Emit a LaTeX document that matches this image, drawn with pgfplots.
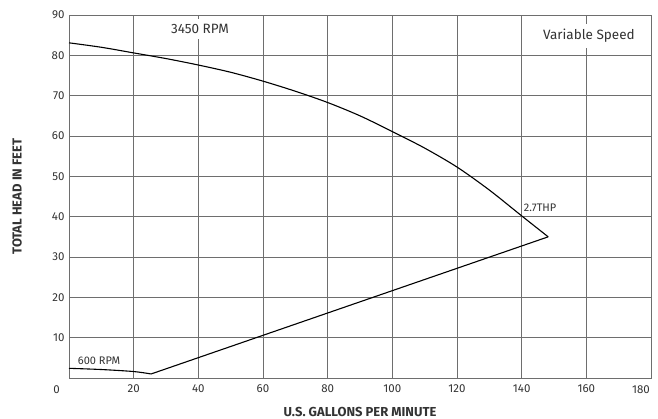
\documentclass[border=0pt]{standalone}
\usepackage{pgfplots}
\pgfplotsset{compat=1.18}
\usepackage{fontspec}
\setmainfont{Fira Sans}
\definecolor{gridc}{HTML}{6E6E6E}
\definecolor{tickc}{HTML}{333333}
\begin{document}
\begin{tikzpicture}
\useasboundingbox (-69pt,-41pt) rectangle (589pt,378pt);
\begin{axis}[
  at={(0pt,0pt)}, anchor=south west,
  scale only axis,
  width=582pt, height=363pt,
  xmin=0, xmax=180, ymin=0, ymax=90,
  xtick={20,40,...,180},
  xticklabels={20,40,60,80,100,120,140,160,},
  ytick={10,20,...,90},
  major tick length=0pt,
  grid=major,
  major grid style={gridc, line width=0.9pt},
  axis line style={gridc, line width=0.9pt},
  /pgf/number format/assume math mode=true,
  tick label style={font=\fontsize{11.5}{13}\selectfont, text=tickc},
  xticklabel style={yshift=-3pt},
  yticklabel style={xshift=-1pt},
  xlabel={\textbf{U.S. GALLONS PER MINUTE}},
  ylabel={\textbf{TOTAL HEAD IN FEET}},
  label style={font=\fontsize{13}{15}\selectfont, text=tickc},
  xlabel style={yshift=-8pt},
  ylabel style={yshift=23pt},
  clip=false,
]
\addplot[black, line width=1.1pt, smooth, tension=0.5] coordinates {
 (0,83.1) (10,82.0) (20,80.6) (30,79.2) (40,77.6) (50,75.8) (60,73.6)
 (70,71.1) (80,68.3) (90,65.0) (100,61.1) (110,57.0) (120,52.3)
 (130,46.6) (140,40.2) (148.2,35.0)
};
\addplot[black, line width=1.1pt] coordinates {
 (148.2,35.0) (25.4,1.0)
};
\addplot[black, line width=1.1pt, smooth] coordinates {
 (0,2.4) (10,2.1) (20,1.6) (25.4,1.0)
};
\node[fill=white, inner xsep=4pt, inner ysep=5pt, font=\fontsize{13.5}{15}\selectfont, text=tickc] at (axis cs:40.5,86.5) {3450 RPM};
\node[fill=white, inner xsep=4pt, inner ysep=5pt, font=\fontsize{13.5}{15}\selectfont, text=tickc] at (axis cs:160.8,84.8) {Variable Speed};
\node[font=\fontsize{11}{13}\selectfont, text=tickc] at (axis cs:9.3,4.2) {600 RPM};
\node[anchor=west, inner sep=0pt, font=\fontsize{11}{13}\selectfont, text=tickc] at (axis cs:140.6,42.2) {2.7THP};
\node[anchor=east, font=\fontsize{11.5}{13}\selectfont, text=tickc, inner sep=0pt] at (axis cs:0,0) [xshift=-9pt, yshift=-12pt] {0};
\node[anchor=east, font=\fontsize{11.5}{13}\selectfont, text=tickc, inner sep=0pt] at (axis cs:180,0) [xshift=-1pt, yshift=-12pt] {180};
\end{axis}
\end{tikzpicture}
\end{document}
